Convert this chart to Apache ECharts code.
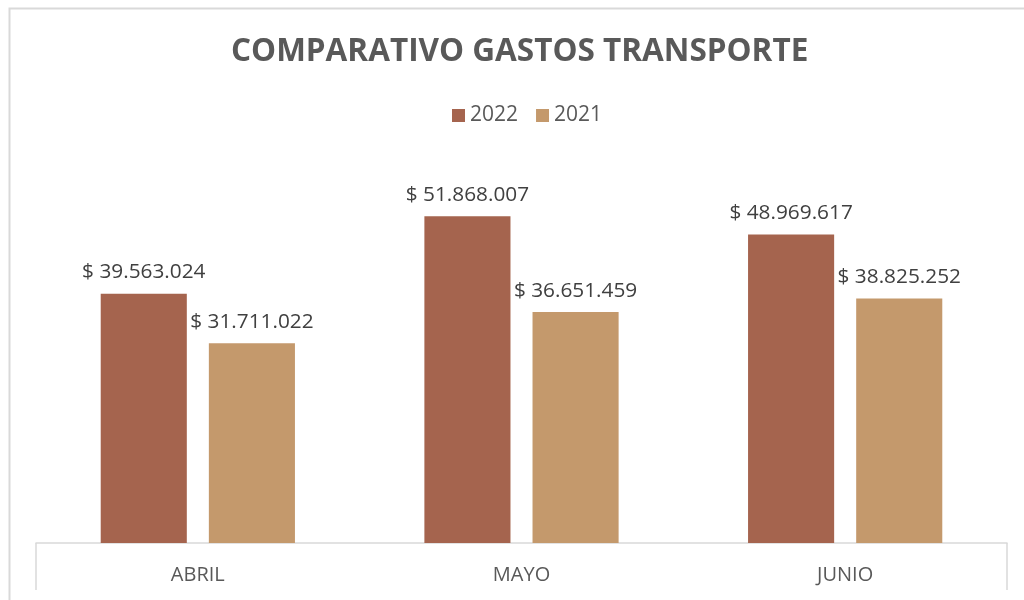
<!DOCTYPE html>
<html><head><meta charset="utf-8">
<script src="https://cdn.jsdelivr.net/npm/echarts@6/dist/echarts.min.js"></script>
<style>html,body{margin:0;padding:0;background:#fff}#c{width:1024px;height:600px}</style>
</head><body><div id="c"></div>
<script>
const categories = ['ABRIL', 'MAYO', 'JUNIO'];
const seriesNames = ['2022', '2021'];
const values2022 = [39563024, 51868007, 48969617];
const values2021 = [31711022, 36651459, 38825252];
const colors = ['#A5644E', '#C4996C'];

function fmt(v) {
  return '$ ' + String(v).replace(/\B(?=(\d{3})+(?!\d))/g, '.');
}
const FONT = 'Open Sans';
const chart = echarts.init(document.getElementById('c'));
const labelCfg = {
  show: true, position: 'top', distance: 11,
  formatter: p => fmt(p.value),
  color: '#404040', fontSize: 20.8, fontFamily: FONT
};
chart.setOption({
  animation: false,
  title: {
    text: 'COMPARATIVO GASTOS TRANSPORTE',
    left: 226, top: 31,
    textStyle: { color: '#595959', fontSize: 31.5, fontWeight: 'bold', fontFamily: FONT }
  },
  legend: {
    data: seriesNames, top: 100, left: 447,
    itemWidth: 13, itemHeight: 13, itemGap: 18, icon: 'rect',
    textStyle: { color: '#595959', fontSize: 21, fontFamily: FONT }
  },
  grid: { left: 36, right: 17, top: 165, bottom: 57 },
  xAxis: {
    type: 'category', data: categories,
    axisLine: { lineStyle: { color: '#D9D9D9', width: 1.5 } },
    axisTick: { show: true, length: 47, lineStyle: { color: '#D9D9D9', width: 1.5 },
      interval: (i) => i === 0 || i === 3 },
    axisLabel: { color: '#595959', fontSize: 20, fontFamily: FONT, margin: 22 }
  },
  yAxis: { type: 'value', min: 0, max: 60000000, show: false, splitLine: { show: false } },
  series: [
    { name: seriesNames[0], type: 'bar', data: values2022, barWidth: '26.6%', barGap: '25.6%',
      itemStyle: { color: colors[0] }, label: labelCfg },
    { name: seriesNames[1], type: 'bar', data: values2021, barWidth: '26.6%',
      itemStyle: { color: colors[1] }, label: labelCfg }
  ],
  graphic: [{
    type: 'rect', left: 7, top: 6, silent: true, z: -1,
    shape: { width: 1040, height: 620 },
    style: { fill: 'none', stroke: '#D9D9D9', lineWidth: 2 }
  }]
});
</script></body></html>
